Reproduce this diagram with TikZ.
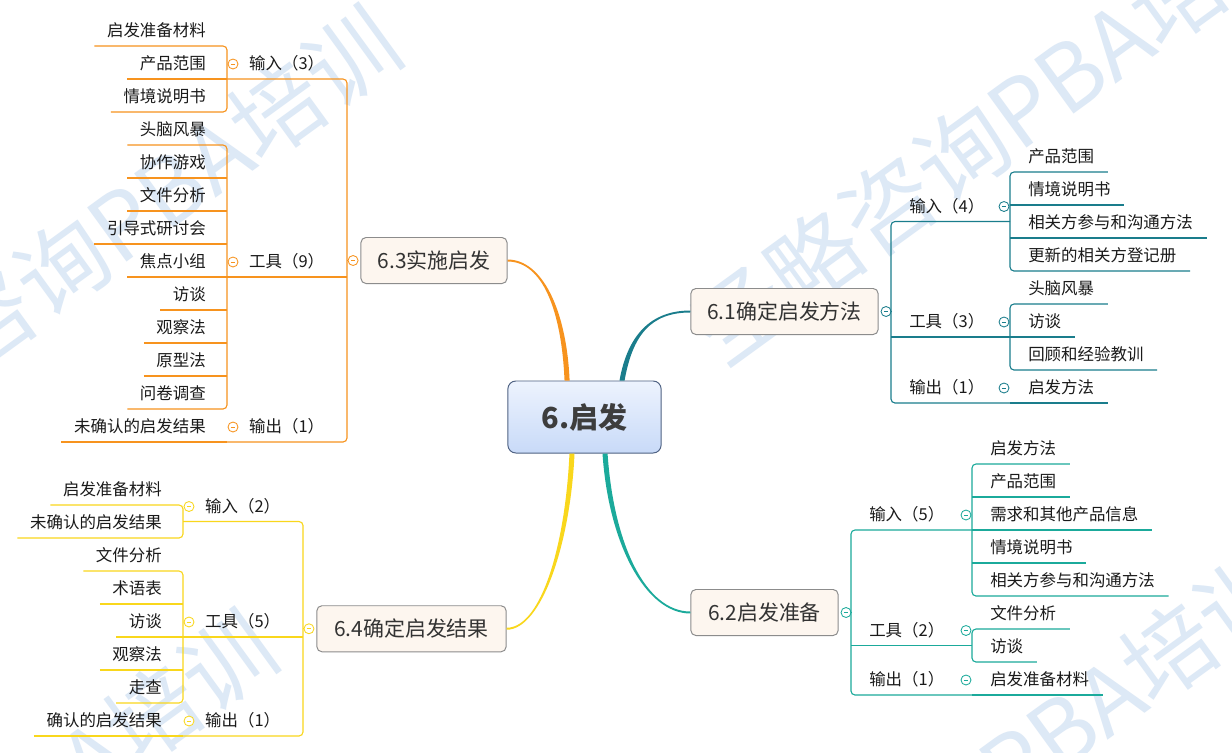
\documentclass[tikz,border=0pt]{standalone}
\usepackage{fontspec}
\newfontfamily\cjk{Noto Sans CJK SC}
\definecolor{Ink}{HTML}{1A1A1A}
\definecolor{TopicInk}{HTML}{333333}
\definecolor{RootInk}{HTML}{3D3D3D}
\definecolor{BrA}{HTML}{1A7D8C}
\definecolor{BrB}{HTML}{1BAA9B}
\definecolor{BrC}{HTML}{F7931E}
\definecolor{BrD}{HTML}{F9D71C}
\definecolor{TopicFill}{HTML}{FDF6EF}
\definecolor{TopicLine}{HTML}{8C8C8C}
\definecolor{RootTop}{HTML}{EDF3FE}
\definecolor{RootBottom}{HTML}{C8DAF8}
\definecolor{RootLine}{HTML}{4F6283}
\definecolor{Stamp}{HTML}{DDE9F6}
\usetikzlibrary{positioning}

\begin{document}
\begin{tikzpicture}[x=0.025cm,y=-0.025cm,
  txt/.style={font=\cjk\fontsize{11.7pt}{14pt}\selectfont,text=Ink,inner sep=0pt,text height=12pt,text depth=6.4pt},
  leafR/.style={txt,anchor=south west,execute at begin node={\hspace*{12.8pt}},execute at end node={\hspace*{9.6pt}}},
  leafL/.style={txt,anchor=south east,execute at begin node={\hspace*{8.8pt}},execute at end node={\hspace*{14.9pt}}},
  parR/.style={txt,anchor=south west,execute at begin node={\hspace*{12.8pt}}},
  parL/.style={txt,anchor=south west,execute at begin node={\hspace*{15.6pt}}},
  topic/.style={draw=TopicLine,fill=TopicFill,line width=0.7pt,rounded corners=0.125cm,minimum height=1.15cm,inner sep=0pt,font=\cjk\fontsize{14.9pt}{18pt}\selectfont,text=TopicInk},
  root/.style={draw=RootLine,line width=0.7pt,rounded corners=0.2cm,top color=RootTop,bottom color=RootBottom,minimum width=3.83cm,minimum height=1.8cm,font=\cjk\bfseries\fontsize{20.6pt}{24pt}\selectfont,text=RootInk},
  tog/.style={circle,draw=#1,fill=white,line width=0.6pt,minimum size=0.25cm,inner sep=0pt,path picture={\draw[#1,line width=0.6pt] ([xshift=-1.6pt]path picture bounding box.center) -- ([xshift=1.6pt]path picture bounding box.center);}},
  twig/.style={draw=#1,line width=0.8pt,rounded corners=0.1cm},
  wmark/.style={rotate=36,anchor=east,inner sep=0pt,text=Stamp,font=\cjk\fontsize{65pt}{65pt}\selectfont}
]
\fill[white] (0,0) rectangle (1232,752);
\useasboundingbox (0,0) rectangle (1232,752);
% watermark
\begin{scope}
  \clip (0,0) rectangle (1232,752);
  \foreach \p in {{388,30},{1288,-84},{264,634},{1280,572}}
    \node[wmark] at (\p) {圣略咨询PBA培训};
\end{scope}

% centre and main topics
\node[root] (root) at (584.5,417) {6.启发};
\node[topic,minimum width=4.68cm] (b61) at (784.5,311.5) {6.1确定启发方法};
\node[topic,minimum width=3.68cm] (b62) at (764.5,612.5) {6.2启发准备};
\node[topic,minimum width=3.65cm] (b63) at (434,260.5) {6.3实施启发};
\node[topic,minimum width=4.73cm] (b64) at (411.5,628.75) {6.4确定启发结果};
\node[tog=BrA,right=0.05cm of b61] (t61) {};
\node[tog=BrB,right=0.05cm of b62] (t62) {};
\node[tog=BrC,left=0.05cm of b63] (t63) {};
\node[tog=BrD,left=0.05cm of b64] (t64) {};

% main branches
\fill[BrA] ([xshift=24.9pt]root.north) .. controls +(8,-45) and +(-40,0) .. ([yshift=0.7pt]b61.west)
  -- ([yshift=-0.7pt]b61.west) .. controls +(-40,0) and +(8,-45) .. ([xshift=28.5pt]root.north) -- cycle;
\fill[BrB] ([xshift=16.4pt]root.south) .. controls +(6,90) and +(-45,0) .. ([yshift=0.7pt]b62.west)
  -- ([yshift=-0.7pt]b62.west) .. controls +(-45,0) and +(6,90) .. ([xshift=12.8pt]root.south) -- cycle;
\fill[BrC] ([xshift=-14.2pt]root.north) .. controls +(-3,-70) and +(35,0) .. ([yshift=-0.7pt]b63.east)
  -- ([yshift=0.7pt]b63.east) .. controls +(35,0) and +(-3,-70) .. ([xshift=-10.6pt]root.north) -- cycle;
\fill[BrD] ([xshift=-7.1pt]root.south) .. controls +(-4,90) and +(35,0) .. ([yshift=-0.7pt]b64.east)
  -- ([yshift=0.7pt]b64.east) .. controls +(35,0) and +(-4,90) .. ([xshift=-10.7pt]root.south) -- cycle;

% 6.1
\node[parR] (p61a) at (891,221.5) {输入（4）};
\node[parR] (p61b) at (891,337) {工具（3）};
\node[parR] (p61c) at (891,403) {输出（1）};
\foreach \n/\y/\t in {a/172/产品范围,b/205/情境说明书,c/238/相关方参与和沟通方法,d/271/更新的相关方登记册,
    e/304/头脑风暴,f/337/访谈,g/370/回顾和经验教训,h/403/启发方法}
  \node[leafR] (a61\n) at (1010,\y) {\t};
\draw[twig=BrA] (p61a.south west -| a61a.south west) -- (p61a.south west) -- (p61c.south west) -- (p61c.south west -| a61h.south west);
\draw[twig=BrA] (p61b.south west) -- (p61b.south west -| a61e.south west);
\draw[twig=BrA] (t61.east) -- (t61.east -| p61a.south west);
\draw[twig=BrA] (a61a.south east) -- (a61a.south west) -- (a61d.south west) -- (a61d.south east);
\draw[twig=BrA] (a61e.south east) -- (a61e.south west) -- (a61g.south west) -- (a61g.south east);
\foreach \n in {b,c,f,h}
  \draw[twig=BrA] (a61\n.south west) -- (a61\n.south east);
\foreach \y [count=\i] in {206.5,322,388}
  \node[tog=BrA] (t61\i) at (1004,\y) {};

% 6.2
\node[parR] (p62a) at (851,530) {输入（5）};
\node[parR] (p62b) at (851,645.5) {工具（2）};
\node[parR] (p62c) at (851,695) {输出（1）};
\foreach \n/\y/\t in {a/464/启发方法,b/497/产品范围,c/530/需求和其他产品信息,d/563/情境说明书,
    e/596/相关方参与和沟通方法,f/629/文件分析,g/662/访谈,h/695/启发准备材料}
  \node[leafR] (a62\n) at (972,\y) {\t};
\draw[twig=BrB] (p62a.south west -| a62a.south west) -- (p62a.south west) -- (p62c.south west) -- (p62c.south west -| a62h.south west);
\draw[twig=BrB] (p62b.south west) -- (p62b.south west -| a62f.south west);
\draw[twig=BrB] (t62.east) -- (t62.east -| p62a.south west);
\draw[twig=BrB] (a62a.south east) -- (a62a.south west) -- (a62e.south west) -- (a62e.south east);
\draw[twig=BrB] (a62f.south east) -- (a62f.south west) -- (a62g.south west) -- (a62g.south east);
\foreach \n in {b,c,d,h}
  \draw[twig=BrB] (a62\n.south west) -- (a62\n.south east);
\foreach \y [count=\i] in {515,630.5,680}
  \node[tog=BrB] (t62\i) at (966,\y) {};

% 6.3
\coordinate (k63) at (347,260.5);
\node[parL] (p63a) at (227,79) {输入（3）};
\node[parL] (p63b) at (227,277) {工具（9）};
\node[parL] (p63c) at (227,442) {输出（1）};
\foreach \n/\y/\t in {a/46/启发准备材料,b/79/产品范围,c/112/情境说明书,d/145/头脑风暴,e/178/协作游戏,
    f/211/文件分析,g/244/引导式研讨会,h/277/焦点小组,i/310/访谈,j/343/观察法,k/376/原型法,
    l/409/问卷调查,m/442/未确认的启发结果}
  \node[leafL] (a63\n) at (227,\y) {\t};
\draw[twig=BrC] (p63a.south west) -- (p63a.south west -| k63) -- (p63c.south west -| k63) -- (p63c.south west);
\draw[twig=BrC] (p63b.south west) -- (p63b.south west -| k63);
\draw[twig=BrC] (t63.west) -- (t63.west -| k63);
\draw[twig=BrC] (a63a.south west) -- (a63a.south east) -- (a63c.south east) -- (a63c.south west);
\draw[twig=BrC] (a63d.south west) -- (a63d.south east) -- (a63l.south east) -- (a63l.south west);
\foreach \n in {b,e,f,g,h,i,j,k,m}
  \draw[twig=BrC] (a63\n.south west) -- (a63\n.south east);
\foreach \y [count=\i] in {64,262,427}
  \node[tog=BrC] (t63\i) at (233,\y) {};

% 6.4
\coordinate (k64) at (303,628.75);
\node[parL] (p64a) at (183,521.5) {输入（2）};
\node[parL] (p64b) at (183,637) {工具（5）};
\node[parL] (p64c) at (183,736) {输出（1）};
\foreach \n/\y/\t in {a/505/启发准备材料,b/538/未确认的启发结果,c/571/文件分析,d/604/术语表,
    e/637/访谈,f/670/观察法,g/703/走查,h/736/确认的启发结果}
  \node[leafL] (a64\n) at (183,\y) {\t};
\draw[twig=BrD] (p64a.south west) -- (p64a.south west -| k64) -- (p64c.south west -| k64) -- (p64c.south west);
\draw[twig=BrD] (p64b.south west) -- (p64b.south west -| k64);
\draw[twig=BrD] (t64.west) -- (t64.west -| k64);
\draw[twig=BrD] (a64a.south west) -- (a64a.south east) -- (a64b.south east) -- (a64b.south west);
\draw[twig=BrD] (a64c.south west) -- (a64c.south east) -- (a64g.south east) -- (a64g.south west);
\foreach \n in {d,e,f,h}
  \draw[twig=BrD] (a64\n.south west) -- (a64\n.south east);
\foreach \y [count=\i] in {506.5,622,721}
  \node[tog=BrD] (t64\i) at (189,\y) {};
\end{tikzpicture}
\end{document}
